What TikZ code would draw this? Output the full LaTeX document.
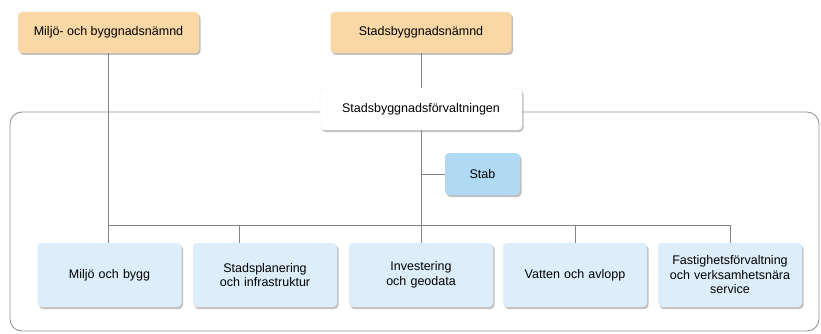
\documentclass[tikz,border=0pt]{standalone}
\usepackage{fontspec}
\setmainfont{Liberation Sans}
\usetikzlibrary{shadows}
\definecolor{orangefill}{RGB}{249,216,166}
\definecolor{stabfill}{RGB}{176,218,244}
\definecolor{unitfill}{RGB}{221,238,250}
\definecolor{linegray}{RGB}{130,130,130}
\definecolor{framegray}{RGB}{150,150,150}
\begin{document}
\begin{tikzpicture}[x=1pt,y=-1pt,
  box/.style={rounded corners=4pt, align=center, inner sep=2pt,
    font=\fontsize{12.5}{14.5}\selectfont,
    drop shadow={shadow xshift=1.5pt, shadow yshift=-2pt, opacity=0.4, fill=black!60}},
  board/.style={box, fill=orangefill, minimum width=181pt, minimum height=41pt},
  office/.style={box, fill=white, draw=black!8, minimum width=202pt, minimum height=42pt},
  stabbox/.style={box, fill=stabfill, minimum width=75pt, minimum height=42pt},
  unit/.style={box, fill=unitfill, minimum width=144pt, minimum height=64pt, text width=138pt},
  conn/.style={draw=linegray, line width=0.8pt},
  frame/.style={draw=framegray, line width=0.9pt, rounded corners=12pt}
]
\useasboundingbox (0,0) rectangle (821,334);
\fill[white] (0,0) rectangle (821,334);
% outer frame
\draw[frame] (10,112) rectangle (819,331);
\coordinate (bus) at (0,225);
% nodes
\node[board] (top1) at (108.5,32.5) {Miljö- och byggnadsnämnd};
\node[board] (top2) at (421,32.5) {Stadsbyggnadsnämnd};
\node[office] (sbf) at (421,109) {Stadsbyggnadsförvaltningen};
\node[stabbox] (stab) at (482.5,174) {Stab};
\node[unit] (b1) at (109.5,275) {Miljö och bygg};
\node[unit] (b2) at (265,275) {Stadsplanering\\och infrastruktur};
\node[unit] (b3) at (421,275) {Investering\\och geodata};
\node[unit] (b4) at (575,275) {Vatten och avlopp};
\node[unit] (b5) at (730,275) {Fastighetsförvaltning\\och verksamhetsnära\\service};
% connectors
\draw[conn] (top1.south) -- (top1.south |- b1.north);
\draw[conn] (top2.south) -- (sbf.north);
\draw[conn] (sbf.south) -- (b3.north);
\draw[conn] (sbf.south |- stab.west) -- (stab.west);
\draw[conn] (top1.south |- bus) -- (b5.north |- bus) -- (b5.north);
\draw[conn] ([xshift=-26pt]b2.north |- bus) -- ([xshift=-26pt]b2.north);
\draw[conn] (b4.north |- bus) -- (b4.north);
\end{tikzpicture}
\end{document}
